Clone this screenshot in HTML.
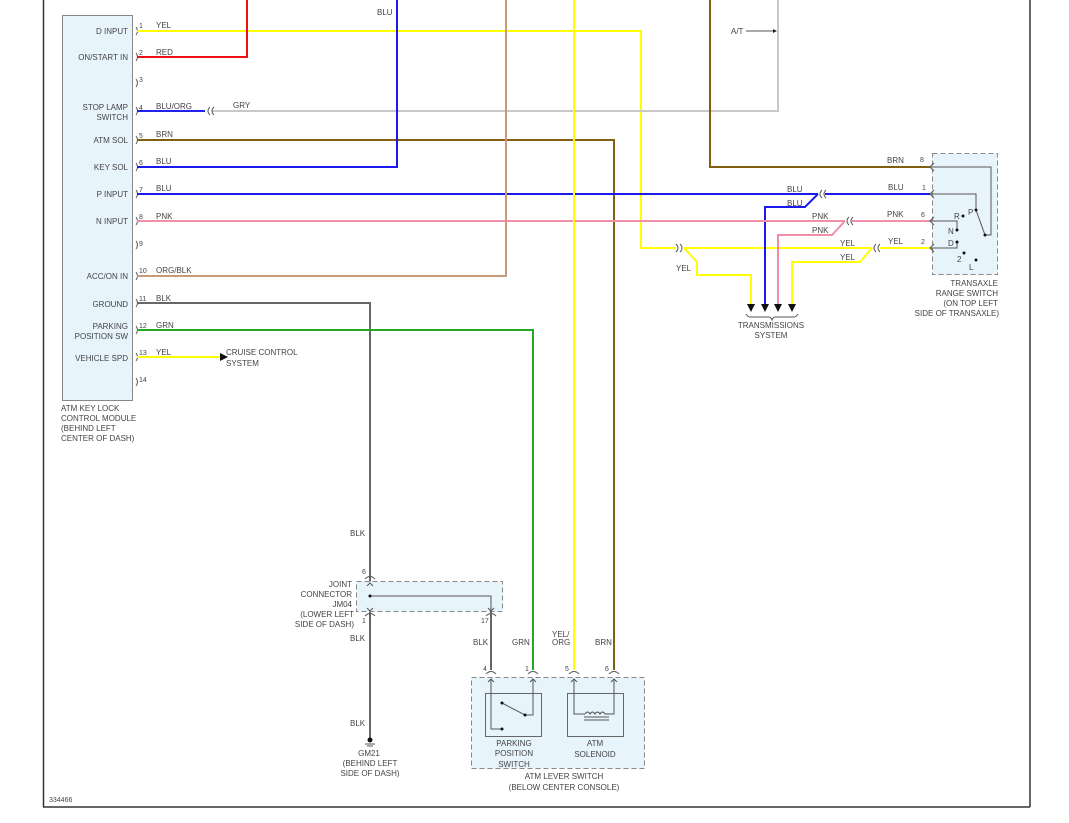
<!DOCTYPE html>
<html><head><meta charset="utf-8"><style>
body{margin:0;background:#fff;}
svg{display:block;}
text{font-family:"Liberation Sans",sans-serif;font-size:8px;fill:#444;}
</style></head><body>
<svg width="1069" height="823" viewBox="0 0 1069 823" xmlns="http://www.w3.org/2000/svg">
<rect width="1069" height="823" fill="#fff"/>
<!-- frame -->
<line x1="43.5" y1="0" x2="43.5" y2="807" stroke="#333" stroke-width="1.5"/>
<line x1="43" y1="807" x2="1030" y2="807" stroke="#333" stroke-width="1.5"/>
<line x1="1030" y1="0" x2="1030" y2="807" stroke="#333" stroke-width="1.5"/>
<!-- module -->
<rect x="62.5" y="15.5" width="70" height="385" fill="#e8f4fc" stroke="#888"/>
<g text-anchor="end">
<text x="128" y="34">D INPUT</text>
<text x="128" y="60">ON/START IN</text>
<text x="128" y="110">STOP LAMP</text>
<text x="128" y="120">SWITCH</text>
<text x="128" y="143">ATM SOL</text>
<text x="128" y="170">KEY SOL</text>
<text x="128" y="197">P INPUT</text>
<text x="128" y="224">N INPUT</text>
<text x="128" y="279">ACC/ON IN</text>
<text x="128" y="307">GROUND</text>
<text x="128" y="329">PARKING</text>
<text x="128" y="339">POSITION SW</text>
<text x="128" y="361">VEHICLE SPD</text>
</g>
<text x="61" y="411">ATM KEY LOCK</text>
<text x="61" y="421">CONTROL MODULE</text>
<text x="61" y="431">(BEHIND LEFT</text>
<text x="61" y="441">CENTER OF DASH)</text>
<!-- pin marks -->
<g fill="none" stroke="#555" stroke-width="1">
<path d="M136 27 q3 4 0 8"/><path d="M136 53 q3 4 0 8"/><path d="M136 79 q3 4 0 8"/><path d="M136 107 q3 4 0 8"/><path d="M136 136 q3 4 0 8"/><path d="M136 163 q3 4 0 8"/><path d="M136 190 q3 4 0 8"/><path d="M136 217 q3 4 0 8"/><path d="M136 241 q3 4 0 8"/><path d="M136 272 q3 4 0 8"/><path d="M136 299 q3 4 0 8"/><path d="M136 326 q3 4 0 8"/><path d="M136 353 q3 4 0 8"/><path d="M136 378 q3 4 0 8"/>
</g>
<g font-size="7">
<text x="139" y="28" style="font-size:7px">1</text><text x="139" y="55" style="font-size:7px">2</text><text x="139" y="82" style="font-size:7px">3</text><text x="139" y="110" style="font-size:7px">4</text><text x="139" y="138" style="font-size:7px">5</text><text x="139" y="165" style="font-size:7px">6</text><text x="139" y="192" style="font-size:7px">7</text><text x="139" y="219" style="font-size:7px">8</text><text x="139" y="246" style="font-size:7px">9</text><text x="139" y="273" style="font-size:7px">10</text><text x="139" y="301" style="font-size:7px">11</text><text x="139" y="328" style="font-size:7px">12</text><text x="139" y="355" style="font-size:7px">13</text><text x="139" y="382" style="font-size:7px">14</text>
</g>
<!-- wire labels -->
<text x="156" y="28">YEL</text><text x="156" y="55">RED</text><text x="156" y="109">BLU/ORG</text><text x="233" y="108">GRY</text>
<text x="156" y="137">BRN</text><text x="156" y="164">BLU</text><text x="156" y="191">BLU</text><text x="156" y="219">PNK</text>
<text x="156" y="273">ORG/BLK</text><text x="156" y="301">BLK</text><text x="156" y="328">GRN</text><text x="156" y="355">YEL</text>
<text x="377" y="15">BLU</text>
<!-- wires -->
<g fill="none" stroke-width="2">
<polyline points="137,31 641,31 641,248 676,248" stroke="#ffff00"/>
<polyline points="684,248 872,248" stroke="#ffff00"/>
<polyline points="880,248 930,248" stroke="#ffff00"/>
<polyline points="684,248 697,262 697,275 751,275 751,304" stroke="#ffff00"/>
<polyline points="872,248 860,262 792,262 792,304" stroke="#ffff00"/>
<polyline points="137,57 247,57 247,0" stroke="#ee1111"/>
<polyline points="137,111 205,111" stroke="#2222ee"/>
<polyline points="212,111 778,111 778,0" stroke="#c8c8c8"/>
<polyline points="137,140 614,140 614,670" stroke="#806010"/>
<polyline points="137,167 397,167 397,0" stroke="#1a1aee"/>
<polyline points="137,194 818,194" stroke="#1a1aee"/>
<polyline points="825,194 930,194" stroke="#1a1aee"/>
<polyline points="818,194 805,207 765,207 765,304" stroke="#1a1aee"/>
<polyline points="137,221 845,221" stroke="#f090a8"/>
<polyline points="852,221 930,221" stroke="#f090a8"/>
<polyline points="845,221 832,235 778,235 778,304" stroke="#f090a8"/>
<polyline points="137,276 506,276 506,0" stroke="#c89a78"/>
<polyline points="137,303 370,303 370,740" stroke="#666"/>
<polyline points="137,330 533,330 533,670" stroke="#22aa22"/>
<polyline points="137,357 222,357" stroke="#ffff00"/>
<polyline points="574,0 574,670" stroke="#ffff00"/>
<polyline points="710,0 710,167 930,167" stroke="#806010"/>
</g>
<!-- inline connectors -->
<g fill="none" stroke="#555">
<path d="M210 107 q-4 4 0 8"/><path d="M214 107 q-4 4 0 8"/>
<path d="M676 244 q4 4 0 8"/><path d="M680 244 q4 4 0 8"/>
<path d="M876 244 q-4 4 0 8"/><path d="M880 244 q-4 4 0 8"/>
<path d="M822 190 q-4 4 0 8"/><path d="M826 190 q-4 4 0 8"/>
<path d="M849 217 q-4 4 0 8"/><path d="M853 217 q-4 4 0 8"/>
</g>
<polygon points="220,353 228,357 220,361" fill="#111"/>
<text x="226" y="355">CRUISE CONTROL</text><text x="226" y="366">SYSTEM</text>
<!-- A/T -->
<text x="731" y="34">A/T</text>
<line x1="746" y1="31" x2="774" y2="31" stroke="#555"/>
<polygon points="773,29 777,31 773,33" fill="#222"/>
<!-- transmissions arrows -->
<g fill="#111">
<polygon points="747,304 755,304 751,312"/><polygon points="761,304 769,304 765,312"/><polygon points="774,304 782,304 778,312"/><polygon points="788,304 796,304 792,312"/>
</g>
<path d="M746 314 q2 3 4 3 h19 q2 0 3 3 q1 -3 3 -3 h19 q2 0 4 -3" fill="none" stroke="#555"/>
<text x="771" y="328" text-anchor="middle">TRANSMISSIONS</text>
<text x="771" y="338" text-anchor="middle">SYSTEM</text>
<text x="676" y="271">YEL</text>
<text x="787" y="192">BLU</text><text x="787" y="206">BLU</text>
<text x="812" y="219">PNK</text><text x="812" y="233">PNK</text>
<text x="840" y="246">YEL</text><text x="840" y="260">YEL</text>
<text x="887" y="163">BRN</text><text x="888" y="190">BLU</text><text x="887" y="217">PNK</text><text x="888" y="244">YEL</text>
<text x="920" y="162" style="font-size:7px">8</text><text x="922" y="190" style="font-size:7px">1</text><text x="921" y="217" style="font-size:7px">6</text><text x="921" y="244" style="font-size:7px">2</text>
<!-- transaxle -->
<rect x="932.5" y="153.5" width="65" height="121" fill="#e8f4fc" stroke="#888" stroke-dasharray="5,3"/>
<g fill="none" stroke="#555">
<path d="M934 163 l-4 4 l4 4"/><path d="M934 190 l-4 4 l4 4"/><path d="M934 217 l-4 4 l4 4"/><path d="M934 244 l-4 4 l4 4"/>
<polyline points="931,167 991,167 991,235 985,235 976,210 976,194 931,194"/>
<polyline points="931,221 957,221 957,230"/>
<polyline points="931,248 957,248 957,242"/>
</g>
<g fill="#111"><circle cx="963" cy="216" r="1.5"/><circle cx="957" cy="230" r="1.5"/><circle cx="957" cy="242" r="1.5"/><circle cx="964" cy="253" r="1.5"/><circle cx="976" cy="260" r="1.5"/><circle cx="976" cy="210" r="1.5"/><circle cx="985" cy="235" r="1.5"/></g>
<text x="954" y="219">R</text><text x="968" y="215">P</text><text x="948" y="234">N</text><text x="948" y="246">D</text><text x="957" y="262">2</text><text x="969" y="270">L</text>
<g text-anchor="end"><text x="998" y="286">TRANSAXLE</text><text x="998" y="296">RANGE SWITCH</text><text x="998" y="306">(ON TOP LEFT</text><text x="999" y="316">SIDE OF TRANSAXLE)</text></g>
<!-- JM04 -->
<rect x="356.5" y="581.5" width="146" height="30" fill="#e8f4fc" stroke="#888" stroke-dasharray="5,3"/>
<g fill="none" stroke="#555">
<polyline points="370,596 491,596 491,612"/>
<path d="M365 579 q5 -5 10 0"/><path d="M365 616 q5 -5 10 0"/><path d="M486 616 q5 -5 10 0"/>
<path d="M367 586 l3 -3 l3 3"/><path d="M367 608 l3 3 l3 -3"/><path d="M488 608 l3 3 l3 -3"/>
</g>
<line x1="491" y1="612" x2="491" y2="670" stroke="#666" stroke-width="2"/>
<circle cx="370" cy="596" r="1.5" fill="#111"/>
<text x="362" y="574" style="font-size:7px">6</text><text x="362" y="623" style="font-size:7px">1</text><text x="481" y="623" style="font-size:7px">17</text>
<g text-anchor="end"><text x="352" y="587">JOINT</text><text x="352" y="597">CONNECTOR</text><text x="352" y="607">JM04</text><text x="354" y="617">(LOWER LEFT</text><text x="354" y="627">SIDE OF DASH)</text></g>
<text x="350" y="536">BLK</text><text x="350" y="641">BLK</text><text x="350" y="726">BLK</text>
<text x="473" y="645">BLK</text><text x="512" y="645">GRN</text><text x="552" y="637">YEL/</text><text x="552" y="645">ORG</text><text x="595" y="645">BRN</text>
<!-- ground -->
<circle cx="370" cy="740" r="2.5" fill="#111"/>
<line x1="365" y1="744" x2="375" y2="744" stroke="#555"/><line x1="367" y1="746" x2="373" y2="746" stroke="#555"/>
<g text-anchor="middle"><text x="369" y="756">GM21</text><text x="370" y="766">(BEHIND LEFT</text><text x="370" y="776">SIDE OF DASH)</text></g>
<!-- lever switch -->
<rect x="471.5" y="677.5" width="173" height="91" fill="#e8f4fc" stroke="#888" stroke-dasharray="5,3"/>
<rect x="485.5" y="693.5" width="56" height="43" fill="#e8f4fc" stroke="#666"/>
<rect x="567.5" y="693.5" width="56" height="43" fill="#e8f4fc" stroke="#666"/>
<g fill="none" stroke="#555">
<path d="M486 674 q5 -5 10 0"/><path d="M528 674 q5 -5 10 0"/><path d="M569 674 q5 -5 10 0"/><path d="M609 674 q5 -5 10 0"/>
<path d="M488 682 l3 -3 l3 3"/><path d="M530 682 l3 -3 l3 3"/><path d="M571 682 l3 -3 l3 3"/><path d="M611 682 l3 -3 l3 3"/>
<polyline points="491,679 491,729 502,729"/>
<polyline points="533,679 533,715 525,715 502,703"/>
<polyline points="574,679 574,714 585,714"/>
<polyline points="614,679 614,714 608,714"/>
<path d="M585 714 q2.5 -4 5 0 q2.5 -4 5 0 q2.5 -4 5 0 q2.5 -4 5 0 h3"/>
<line x1="584" y1="717" x2="609" y2="717"/><line x1="584" y1="720" x2="609" y2="720"/>
</g>
<g fill="#111"><circle cx="502" cy="703" r="1.5"/><circle cx="525" cy="715" r="1.5"/><circle cx="502" cy="729" r="1.5"/></g>
<text x="483" y="671" style="font-size:7px">4</text><text x="525" y="671" style="font-size:7px">1</text><text x="565" y="671" style="font-size:7px">5</text><text x="605" y="671" style="font-size:7px">6</text>
<g text-anchor="middle"><text x="514" y="746">PARKING</text><text x="514" y="756">POSITION</text><text x="514" y="767">SWITCH</text>
<text x="595" y="746">ATM</text><text x="595" y="757">SOLENOID</text>
<text x="564" y="779">ATM LEVER SWITCH</text><text x="564" y="790">(BELOW CENTER CONSOLE)</text></g>
<text x="49" y="802" style="font-size:7px">334466</text>
</svg>
</body></html>
